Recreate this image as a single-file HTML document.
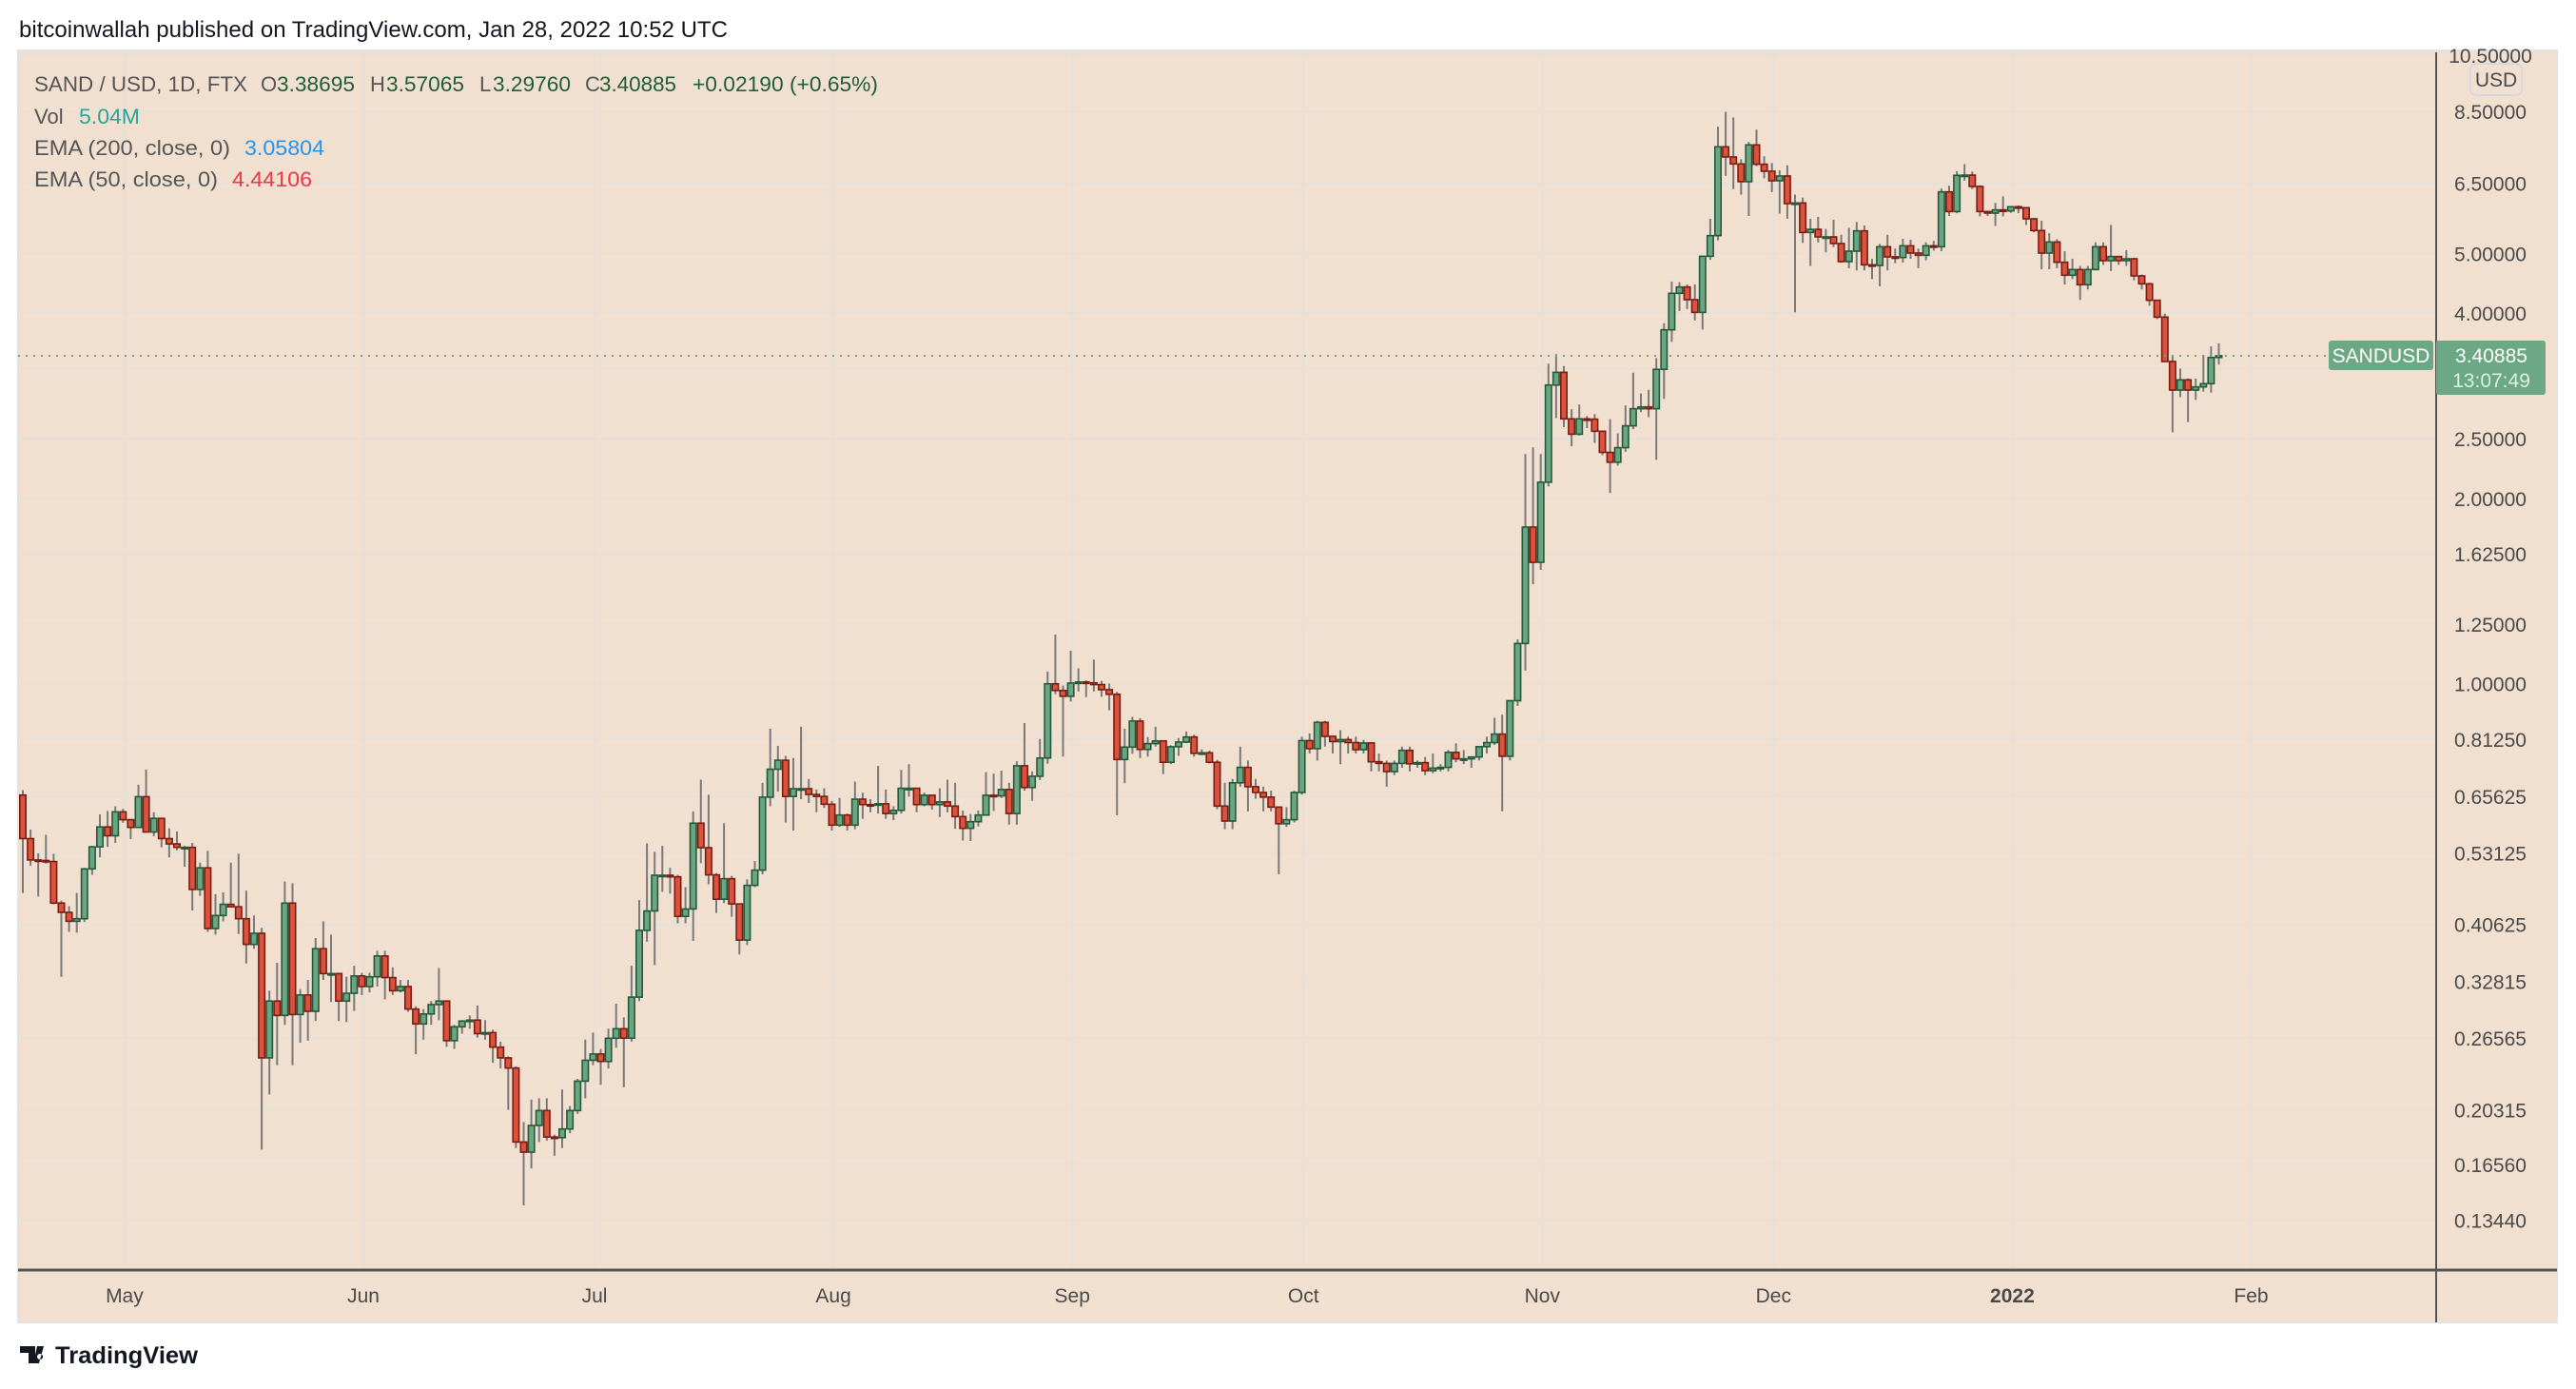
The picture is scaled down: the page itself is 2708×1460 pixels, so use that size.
<!DOCTYPE html>
<html><head><meta charset="utf-8"><title>SAND/USD 1D chart</title>
<style>
html,body{margin:0;padding:0;background:#fff;}
svg{display:block;}
text{font-family:"Liberation Sans",sans-serif;}
</style></head>
<body>
<svg id="chart" width="2708" height="1460" viewBox="0 0 2708 1460" xmlns="http://www.w3.org/2000/svg">
  <text x="20" y="39" font-size="24" fill="#131722" textLength="745" lengthAdjust="spacingAndGlyphs">bitcoinwallah published on TradingView.com, Jan 28, 2022 10:52 UTC</text>
  <rect x="19" y="53" width="2669" height="1337" fill="#f1dfcf" stroke="#e3e3e3" stroke-width="2"/>
  <g id="grid"></g>
  <g id="candles"></g>
  <line x1="19" y1="374" x2="2448" y2="374" stroke="#6ca883" stroke-width="2" stroke-dasharray="2,6"/>
  <line x1="2561" y1="55" x2="2561" y2="1390" stroke="#555" stroke-width="2"/>
  <line x1="19" y1="1335" x2="2688" y2="1335" stroke="#555" stroke-width="3"/>
  <g id="yaxis"></g>
  <g id="xaxis"></g>
  <g>
    <text y="96" font-size="22">
      <tspan x="36" fill="#555" textLength="224" lengthAdjust="spacingAndGlyphs">SAND / USD, 1D, FTX</tspan>
      <tspan x="274" fill="#555">O</tspan><tspan x="291" fill="#1e5e3a" textLength="82" lengthAdjust="spacingAndGlyphs">3.38695</tspan>
      <tspan x="389" fill="#555">H</tspan><tspan x="406" fill="#1e5e3a" textLength="82" lengthAdjust="spacingAndGlyphs">3.57065</tspan>
      <tspan x="504" fill="#555">L</tspan><tspan x="518" fill="#1e5e3a" textLength="82" lengthAdjust="spacingAndGlyphs">3.29760</tspan>
      <tspan x="615" fill="#555">C</tspan><tspan x="630" fill="#1e5e3a" textLength="81" lengthAdjust="spacingAndGlyphs">3.40885</tspan>
      <tspan x="728" fill="#1e5e3a" textLength="195" lengthAdjust="spacingAndGlyphs">+0.02190 (+0.65%)</tspan>
    </text>
    <text y="130" font-size="22"><tspan x="36" fill="#555">Vol</tspan><tspan x="83" fill="#26a69a" textLength="64" lengthAdjust="spacingAndGlyphs">5.04M</tspan></text>
    <text y="163" font-size="22"><tspan x="36" fill="#555" textLength="206" lengthAdjust="spacingAndGlyphs">EMA (200, close, 0)</tspan><tspan x="257" fill="#2196f3" textLength="84" lengthAdjust="spacingAndGlyphs">3.05804</tspan></text>
    <text y="196" font-size="22"><tspan x="36" fill="#555" textLength="193" lengthAdjust="spacingAndGlyphs">EMA (50, close, 0)</tspan><tspan x="244" fill="#f23645" textLength="84" lengthAdjust="spacingAndGlyphs">4.44106</tspan></text>
  </g>
  <rect x="2597" y="67" width="54" height="33" rx="6" fill="#f1dfcf" stroke="#d5d8e0" stroke-width="2"/>
  <text x="2624" y="91" font-size="21" fill="#4a4a4a" text-anchor="middle">USD</text>
  <rect x="2448" y="358" width="110" height="31" rx="3" fill="#6ca883"/>
  <text x="2503" y="381" font-size="21" fill="#fff" text-anchor="middle">SANDUSD</text>
  <rect x="2561" y="358" width="115" height="57" rx="3" fill="#6ca883"/>
  <text x="2619" y="381" font-size="21" fill="#fff" text-anchor="middle">3.40885</text>
  <text x="2619" y="407" font-size="21" fill="#dcefe3" text-anchor="middle">13:07:49</text>
  <g>
    <path d="M21 1415 h16 v18 h-7 v-11 h-9 z M39 1415 h7 l-5 18 h-6 z M42 1423 a3 3 0 1 0 0.1 0" fill="#131722"/>
    <text x="58" y="1433" font-size="25" fill="#131722" font-weight="bold" textLength="150" lengthAdjust="spacingAndGlyphs">TradingView</text>
  </g>
</svg>
<script>
const closes = [.560,.517,.516,.514,.440,.425,.411,.415,.500,.543,
.585,.566,.619,.601,.584,.655,.574,.604,.560,.549,
.542,.542,.463,.502,.400,.420,.438,.434,.415,.377,
.393,.2466,.305,.289,.440,.290,.312,.2935,.371,.338,
.338,.305,.314,.335,.322,.334,.361,.333,.317,.322,
.296,.280,.2906,.301,.305,.263,.277,.283,.284,.270,
.271,.2567,.2466,.2374,.180,.1733,.1915,.2025,.1834,.183,
.189,.2025,.226,.2444,.2502,.2433,.2654,.2750,.2655,.3095,
.3973,.4272,.4883,.4883,.4854,.4187,.4304,.5933,.5413,.489,
.4464,.482,.4386,.3831,.4702,.4977,.6539,.7259,.7507,.6557,
.675,.675,.6605,.6557,.6369,.589,.6116,.589,.649,.636,
.635,.638,.615,.6224,.676,.676,.636,.6586,.636,.6425,
.6325,.608,.582,.5966,.6116,.6586,.657,.673,.615,.7355,
.678,.7071,.757,.9993,.9747,.9538,1.002,1.006,1.003,.9964,
.9776,.9608,.7528,.7886,.8692,.7817,.799,.8071,.7451,.7897,
.8036,.819,.7705,.772,.7451,.6325,.598,.690,.731,.680,
.6655,.654,.630,.592,.601,.6655,.808,.784,.865,.821,
.805,.811,.802,.781,.801,.7465,.742,.7195,.742,.779,
.741,.744,.722,.729,.731,.7733,.7547,.7547,.76,.790,
.802,.828,.762,.938,1.162,1.796,1.574,2.124,3.055,3.204,
2.692,2.542,2.692,2.689,2.570,2.375,2.289,2.417,2.623,2.796,
2.815,2.796,3.240,3.756,4.306,4.409,4.204,4.009,4.946,5.343,
7.448,7.170,6.986,6.537,7.501,6.978,6.798,6.559,6.678,6.023,
6.037,5.406,5.470,5.318,5.318,5.187,4.848,5.041,5.439,4.790,
4.778,5.125,4.935,4.923,5.143,5.005,4.964,5.143,5.125,6.293,
5.846,6.694,6.70,6.421,5.846,5.812,5.882,5.86,5.952,5.93,
5.689,5.445,5.005,5.217,4.836,4.607,4.706,4.446,4.706,5.125,
4.865,4.941,4.865,4.899,4.596,4.461,4.195,3.939,3.336,2.998,
3.115,2.998,3.034,3.071,3.38695,3.40885];
const highs = [.671,.579,.530,.568,.529,.444,.435,.457,.502,.545,
.613,.621,.632,.626,.603,.685,.725,.618,.604,.582,
.575,.545,.551,.512,.535,.455,.458,.512,.529,.461,
.420,.401,.317,.352,.477,.474,.319,.330,.386,.411,
.391,.338,.334,.348,.339,.339,.368,.368,.346,.330,
.330,.299,.296,.305,.345,.305,.279,.284,.289,.300,
.284,.274,.262,.248,.239,.194,.211,.212,.212,.185,
.219,.206,.228,.264,.271,.255,.275,.302,.287,.348,
.445,.550,.533,.545,.502,.489,.467,.620,.698,.660,
.492,.593,.487,.439,.481,.515,.690,.845,.792,.763,
.757,.851,.700,.673,.676,.645,.652,.615,.693,.665,
.649,.735,.673,.632,.724,.740,.676,.665,.660,.676,
.698,.690,.622,.614,.622,.718,.714,.722,.690,.748,
.863,.720,.813,1.046,1.201,.993,1.131,1.059,1.012,1.094,
1.010,1.000,.970,.845,.883,.879,.819,.851,.807,.794,
.816,.836,.826,.782,.778,.752,.69,.70,.79,.75,
.70,.68,.67,.63,.63,.67,.82,.83,.87,.87,
.82,.84,.82,.82,.81,.80,.77,.75,.75,.79,
.79,.75,.76,.77,.74,.78,.80,.78,.76,.79,
.82,.88,.89,.94,1.18,2.36,2.42,2.36,3.31,3.43,
3.28,2.79,2.84,2.72,2.74,2.57,2.69,2.55,2.83,3.20,
2.96,3.00,3.38,3.85,4.50,4.49,4.45,4.45,4.96,5.69,
8.03,8.49,8.31,7.11,7.58,7.94,7.19,7.01,6.82,6.95,
6.23,6.16,5.69,5.73,5.48,5.67,5.36,5.50,5.62,5.55,
4.90,5.18,5.36,5.09,5.28,5.26,5.09,5.21,5.24,6.37,
6.44,6.80,6.98,6.79,6.45,5.86,6.04,6.19,5.96,5.98,
5.93,5.70,5.65,5.39,5.27,5.04,4.90,4.77,4.77,5.21,
5.21,5.56,4.93,5.06,4.92,4.62,4.48,4.20,3.99,3.41,
3.25,3.13,3.13,3.42,3.53,3.57065];
const lows = [.457,.506,.451,.510,.438,.334,.395,.394,.410,.489,
.522,.543,.551,.594,.559,.584,.574,.565,.542,.522,
.536,.504,.428,.452,.395,.391,.411,.433,.392,.351,
.371,.175,.215,.240,.279,.240,.261,.263,.283,.330,
.304,.283,.282,.294,.312,.315,.322,.307,.312,.315,
.293,.250,.264,.279,.284,.257,.255,.270,.275,.266,
.264,.242,.237,.203,.176,.142,.163,.180,.181,.171,
.176,.186,.200,.212,.240,.223,.237,.256,.221,.262,
.305,.381,.349,.459,.456,.408,.408,.382,.511,.472,
.424,.440,.418,.363,.376,.467,.490,.632,.668,.595,
.577,.649,.640,.618,.628,.577,.585,.577,.580,.603,
.618,.615,.603,.600,.615,.655,.618,.632,.624,.607,
.618,.581,.556,.555,.586,.611,.621,.652,.590,.590,
.670,.645,.697,.741,.961,.761,.935,.971,.951,.971,
.952,.905,.611,.689,.769,.757,.761,.790,.713,.740,
.763,.800,.761,.765,.742,.625,.58,.58,.68,.62,
.65,.62,.62,.49,.585,.595,.66,.77,.75,.79,
.77,.74,.77,.77,.77,.72,.72,.68,.71,.73,
.72,.73,.71,.715,.72,.72,.745,.74,.73,.75,
.77,.795,.62,.75,.92,1.05,1.45,1.53,2.09,2.70,
2.61,2.43,2.53,2.60,2.46,2.35,2.04,2.26,2.38,2.59,
2.76,2.71,2.31,2.90,3.59,4.03,4.06,3.89,3.76,4.88,
5.25,6.68,6.36,6.23,5.75,6.93,6.62,6.29,5.80,5.69,
4.01,5.20,4.77,5.21,5.02,5.12,4.83,4.73,4.69,4.69,
4.54,4.42,4.69,4.82,4.83,4.90,4.73,4.87,5.05,5.04,
5.75,5.81,6.56,6.36,5.74,5.75,5.54,5.74,5.82,5.81,
5.56,5.41,4.71,4.71,4.73,4.45,4.54,4.20,4.37,4.70,
4.79,4.68,4.79,4.77,4.52,4.37,4.11,3.91,3.33,2.56,
2.92,2.66,2.89,2.98,2.97,3.2976];
const firstOpen = 0.659;
const priceTicks = [10.5,8.5,6.5,5.0,4.0,3.25,2.5,2.0,1.625,1.25,1.0,0.8125,0.65625,0.53125,0.40625,0.32815,0.26565,0.20315,0.1656,0.1344];
const priceTickLabels = ["10.50000","8.50000","6.50000","5.00000","4.00000","","2.50000","2.00000","1.62500","1.25000","1.00000","0.81250","0.65625","0.53125","0.40625","0.32815","0.26565","0.20315","0.16560","0.13440"];
const monthLabels = ["May","Jun","Jul","Aug","Sep","Oct","Nov","Dec","2022","Feb"];
const monthBarIndex = [13.2,44.2,74.2,105.2,136.2,166.2,197.2,227.2,258.2,289.2];

const NS = "http://www.w3.org/2000/svg";
function yScale(p){ return 329 + 281*Math.log(4/p); }
function xScale(i){ return 24 + 8.1*i; }
function mk(tag, attrs, parent){ const e=document.createElementNS(NS,tag); for(const k in attrs) e.setAttribute(k,attrs[k]); parent.appendChild(e); return e; }

const grid = document.getElementById('grid');
const yaxis = document.getElementById('yaxis');
const xaxis = document.getElementById('xaxis');
const candles = document.getElementById('candles');

priceTicks.forEach((p,k)=>{
  const y = yScale(p);
  if (y > 55 && y < 1333) {
    const l = mk('line',{x1:19,x2:2561,y1:y,y2:y,stroke:'#e7e0d9','stroke-width':2},grid);
    
    
  }
  if (priceTickLabels[k]) {
    const t = mk('text',{x:2618,y:y+8,'font-size':21,fill:'#4a4a4a','text-anchor':'middle'},yaxis);
    t.textContent = priceTickLabels[k];
    
    
  }
});
monthLabels.forEach((m,k)=>{
  const x = xScale(monthBarIndex[k]);
  const l = mk('line',{x1:x,x2:x,y1:55,y2:1335,stroke:'#e7e0d9','stroke-width':2},grid);
  
  
  const t = mk('text',{x:x,y:1369,'font-size':21,fill:'#4a4a4a','text-anchor':'middle'},xaxis);
  if (m === '2022') t.setAttribute('font-weight','bold');
  t.textContent = m;
  
  
});

closes.forEach((c,i)=>{
  const o = i===0 ? firstOpen : closes[i-1];
  const hi = Math.max(highs[i], o, c), lo = Math.min(lows[i], o, c);
  const x = xScale(i);
  const up = c >= o;
  const w = mk('line',{x1:x,x2:x,y1:yScale(hi),y2:yScale(lo),stroke:'#7a7a7a','stroke-width':2},candles);
  
  
  const yt = yScale(Math.max(o,c)), yb = yScale(Math.min(o,c));
  const h = Math.max(yb-yt, 1.5);
  const b = mk('rect',{x:x-3.2,y:yt,width:6.4,height:h,fill:up?'#6ba583':'#d9533d',stroke:up?'#225b3a':'#7b1c15','stroke-width':1.6},candles);
  
  
});
</script>
</body></html>
